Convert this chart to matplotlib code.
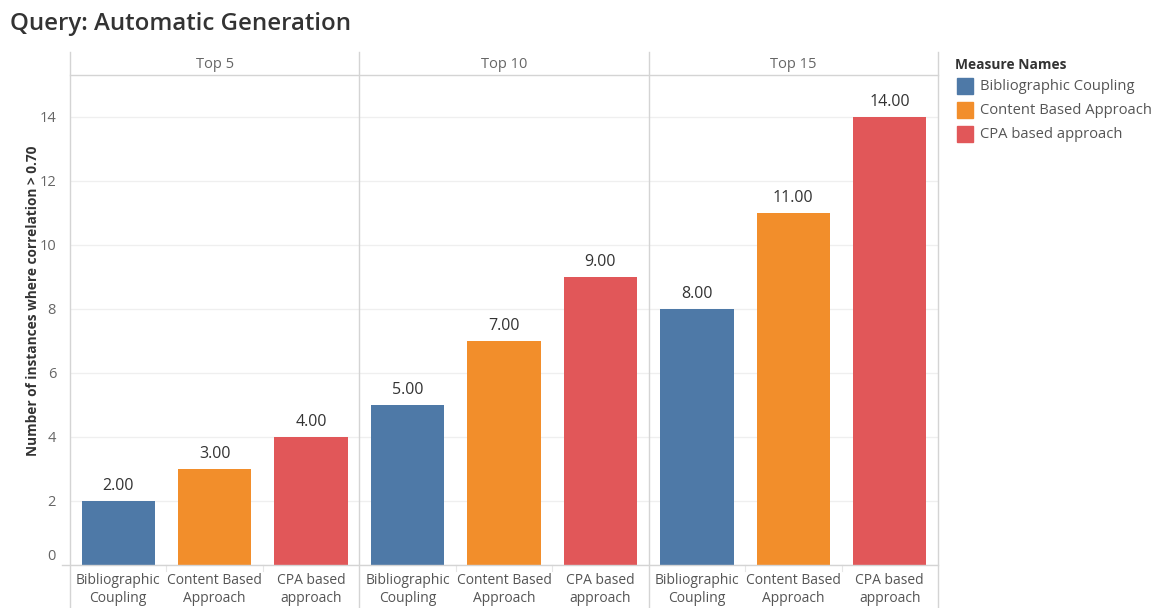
import matplotlib
matplotlib.use("Agg")
import matplotlib.pyplot as plt
from matplotlib.lines import Line2D
from matplotlib.patches import Rectangle
from matplotlib.transforms import ScaledTranslation

# --- data ---
panels = ["Top 5", "Top 10", "Top 15"]
measures = ["Bibliographic Coupling", "Content Based Approach", "CPA based approach"]
tick_labels = ["Bibliographic\nCoupling", "Content Based\nApproach", "CPA based\napproach"]
bibliographic = [2, 5, 8]
content_based = [3, 7, 11]
cpa_based = [4, 9, 14]
colors = ["#4e79a7", "#f28e2b", "#e15759"]
yticks = [0, 2, 4, 6, 8, 10, 12, 14]

series = [bibliographic, content_based, cpa_based]

plt.rcParams["font.family"] = ["Open Sans", "DejaVu Sans"]

W, H = 1164, 608
fig = plt.figure(figsize=(W / 100, H / 100), dpi=100)


def fx(px):
    return px / W


def fy(py):
    return 1 - py / H


left, right = 70, 938
top_header, top_plot, base = 52, 75, 565
pw = (right - left) / 3
grid_col = "#d4d4d4"

axes = []
for i, name in enumerate(panels):
    x0 = left + i * pw
    ax = fig.add_axes([fx(x0), fy(base), fx(pw), (base - top_plot) / H])
    vals = [s[i] for s in series]
    xs = range(len(measures))
    ax.bar(xs, vals, width=0.76, color=colors, zorder=3)
    for x, v in zip(xs, vals):
        ax.text(x, v + 0.22, f"{v:.2f}", ha="center", va="bottom",
                fontsize=11.5, color="#333333", zorder=4)
    ax.set_xlim(-0.5, 2.5)
    ax.set_ylim(0, 15.3)
    ax.set_yticks(yticks)
    ax.yaxis.grid(True, color="#efefef", linewidth=0.9, zorder=0)
    ax.set_xticks(list(xs))
    ax.set_xticklabels(tick_labels, fontsize=10, color="#555555", linespacing=1.2)
    ax.tick_params(axis="x", length=0, pad=6)
    for s in ax.spines.values():
        s.set_visible(False)
    if i == 0:
        ax.tick_params(axis="y", length=0, pad=10, labelsize=10.5, labelcolor="#666666")
        # lift the zero label off the baseline
        lab0 = ax.get_yticklabels()[0]
        lab0.set_transform(lab0.get_transform() + ScaledTranslation(0, 10 / 100, fig.dpi_scale_trans))
        ax.set_ylabel("Number of instances where correlation > 0.70", fontsize=9.8,
                      fontweight="bold", color="#333333")
        ax.yaxis.set_label_coords((40 - 70) / pw, (base - 301) / (base - top_plot))
    else:
        ax.tick_params(axis="y", length=0, labelleft=False)
    axes.append(ax)
    fig.text(fx(x0 + pw / 2), fy(65), name, ha="center", va="center",
             fontsize=10.5, color="#666666")

# faint separators between categories under the baseline
for i in range(3):
    for k in (1, 2):
        xx = left + i * pw + k * pw / 3
        fig.add_artist(Line2D([fx(xx), fx(xx)], [fy(base), fy(base + 6)],
                              color="#e6e6e6", linewidth=0.8))

# panel borders
for k in range(4):
    xx = left + k * pw
    fig.add_artist(Line2D([fx(xx), fx(xx)], [fy(top_header), fy(H)],
                          color=grid_col, linewidth=1.0))
fig.add_artist(Line2D([fx(left), fx(right)], [fy(top_plot), fy(top_plot)],
                      color=grid_col, linewidth=1.0))
fig.add_artist(Line2D([fx(left - 8), fx(right)], [fy(base), fy(base)],
                      color=grid_col, linewidth=1.0))

# title
fig.text(fx(10), fy(24), "Query: Automatic Generation", ha="left", va="center",
         fontsize=17.3, fontweight="semibold", color="#333333")

# legend
fig.text(fx(955), fy(65), "Measure Names", ha="left", va="center",
         fontsize=9.9, fontweight="bold", color="#333333")
for j, (m, c) in enumerate(zip(measures, colors)):
    yc = 86 + j * 24
    fig.add_artist(Rectangle((fx(957), fy(yc + 8)), fx(16), 16 / H, color=c,
                             transform=fig.transFigure))
    fig.text(fx(980), fy(yc + 1), m, ha="left", va="center", fontsize=10.6, color="#555555")

fig.savefig("out.png", dpi=100, facecolor="white")
